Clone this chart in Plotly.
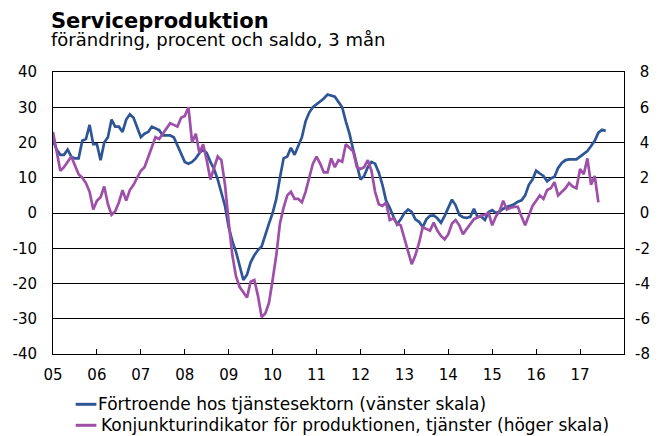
import plotly.graph_objects as go

# ---------------- data ----------------
start_year = 2005
year_ticks = list(range(2005, 2018))
year_labels = ["05", "06", "07", "08", "09", "10", "11", "12", "13", "14", "15", "16", "17"]

left_ticks = [-40, -30, -20, -10, 0, 10, 20, 30, 40]
right_ticks = [-8, -6, -4, -2, 0, 2, 4, 6, 8]

# Förtroende hos tjänstesektorn (vänster skala), monthly from Jan 2005
confidence = [
    20.5, 18, 16.5, 16.5, 18, 16, 15.5, 15.5, 20.5, 21, 25, 19.5,      # 2005
    19.5, 15, 20, 21.5, 26.5, 24.5, 24.5, 23, 26.5, 28, 27, 24,        # 2006
    21.5, 22.5, 23, 24.5, 24, 23.5, 22, 22, 22, 21.5, 19, 17,          # 2007
    14.5, 14, 14.5, 15.5, 17, 18, 17, 14.5, 12.5, 9.5, 6, 2,           # 2008
    -4, -8, -11, -15, -19, -17.5, -14, -12, -10.5, -9.5, -6, -3,       # 2009
    0, 4, 10, 15.5, 16, 18.5, 16.5, 19, 21.5, 26, 28.5, 30,            # 2010
    30.8, 31.5, 32.5, 33.6, 33.2, 33, 31.5, 30, 26, 22.5, 18, 14,      # 2011
    9.5, 10.5, 13, 14.5, 14, 11.5, 8, 3.5, 1.5, -1, -3.2, -1.8,        # 2012
    0, 1, 0.3, -1.8, -2.5, -4, -1.8, -0.8, -0.7, -1.5, -2.8, -0.8,     # 2013
    1.3, 3.8, 2.2, -0.5, -1.2, -1.4, -1.1, 1.2, -1.1, -1, -2, 0.3,     # 2014
    0.8, 0, 0.4, 1.2, 1.7, 2, 2.5, 3.2, 3.6, 5, 8, 9.5,                # 2015
    12, 11.2, 10.5, 9, 9.8, 10.3, 12.8, 14.2, 15, 15.2, 15.2, 15.2,    # 2016
    16, 16.8, 17.6, 19, 20.5, 22.8, 23.6, 23.3,                        # 2017
]

# Konjunkturindikator för produktionen, tjänster (höger skala), monthly from Jan 2005
indicator = [
    4.6, 3.6, 2.4, 2.6, 2.9, 3.2, 2.7, 2.2, 2.0, 1.7, 1.2, 0.2,               # 2005
    0.7, 0.9, 1.5, 0.5, -0.1, 0.1, 0.6, 1.3, 0.7, 1.3, 1.6, 2.0,              # 2006
    2.4, 2.6, 3.2, 3.7, 4.3, 4.2, 4.5, 4.8, 5.1, 5.0, 4.9, 5.4,               # 2007
    5.5, 6.0, 4.0, 4.5, 3.4, 3.9, 3.0, 1.9, 2.5, 3.2, 3.0, 1.6,               # 2008
    -0.5, -2.4, -3.6, -4.2, -4.5, -4.8, -3.9, -3.8, -4.7, -5.9, -5.7, -5.1,   # 2009
    -3.8, -2.4, -0.6, 0.3, 1.0, 1.2, 0.8, 0.8, 0.6, 1.2, 2.0, 2.8,            # 2010
    3.2, 2.8, 2.3, 2.3, 3.1, 2.6, 3.0, 2.9, 3.9, 3.7, 3.5, 2.6,               # 2011
    2.5, 2.6, 3.0, 2.4, 1.2, 0.5, 0.4, 0.6, -0.4, -0.3, -0.6, -0.7,           # 2012
    -1.4, -2.2, -2.9, -2.4, -1.7, -0.8, -0.9, -1.0, -0.55, -1.0, -1.3, -1.5,  # 2013
    -1.2, -0.6, -0.4, -0.7, -1.2, -0.9, -0.6, -0.35, -0.25, -0.15, -0.1, 0.0, # 2014
    -0.7, -0.2, 0.1, 0.7, 0.2, 0.3, 0.35, 0.35, -0.2, -0.7, -0.15, 0.4,       # 2015
    0.7, 1.0, 0.8, 1.3, 1.4, 1.75, 1.0, 1.2, 1.4, 1.7, 1.5, 1.4,              # 2016
    2.5, 2.2, 3.1, 1.6, 2.1, 0.6,                                             # 2017
]

title_text = "Serviceproduktion"
subtitle_text = "förändring, procent och saldo, 3 mån"
name_confidence = "Förtroende hos tjänstesektorn (vänster skala)"
name_indicator = "Konjunkturindikator för produktionen, tjänster (höger skala)"

# ---------------- styling ----------------
BLUE = "#2E5596"
PURPLE = "#9E4FA8"
FONT = "DejaVu Sans"
W, H = 662, 436
ML, MR, MT, MB = 51, 32, 72, 82
PW, PH = W - ML - MR, H - MT - MB


def px_x(x):
    return (x - ML) / PW


def px_y(y):
    return (H - MB - y) / PH


x_conf = [start_year + i / 12 for i in range(len(confidence))]
x_ind = [start_year + i / 12 for i in range(len(indicator))]

fig = go.Figure()
fig.add_trace(go.Scatter(x=x_conf, y=confidence, mode="lines", name=name_confidence,
                         line=dict(color=BLUE, width=2.7), showlegend=False))
fig.add_trace(go.Scatter(x=x_ind, y=indicator, mode="lines", name=name_indicator, yaxis="y2",
                         line=dict(color=PURPLE, width=2.7), showlegend=False))

tickfont = dict(family=FONT, size=15, color="#000000")

fig.update_layout(
    width=W, height=H,
    margin=dict(l=ML, r=MR, t=MT, b=MB, pad=0),
    paper_bgcolor="white", plot_bgcolor="white",
    font=dict(family=FONT, color="#000000"),
    xaxis=dict(range=[2005, 2018], tickmode="array", tickvals=year_ticks, ticktext=year_labels,
               ticks="inside", ticklen=5, tickwidth=1, tickcolor="#000000",
               showline=True, mirror=True, linecolor="#000000", linewidth=1,
               showgrid=False, zeroline=False, tickfont=tickfont, ticklabelstandoff=7),
    yaxis=dict(range=[-40, 40], tickmode="array", tickvals=left_ticks,
               ticktext=[str(v) for v in left_ticks],
               showgrid=True, gridcolor="#000000", gridwidth=1, zeroline=False,
               showline=True, mirror=True, linecolor="#000000", linewidth=1,
               ticks="", tickfont=tickfont, ticklabelstandoff=12),
    yaxis2=dict(range=[-8, 8], overlaying="y", side="right", tickmode="array", tickvals=right_ticks,
                ticktext=[("\u2008" + str(v)) if v >= 0 else str(v) for v in right_ticks],
                showgrid=False, zeroline=False, showline=False, ticks="",
                tickfont=tickfont, ticklabelstandoff=10),
    showlegend=False,
)

header = ("<b><span style='font-size:21px'>" + title_text + "</span></b><br>"
          "<span style='font-size:18px'>" + subtitle_text + "</span>")

annotations = [
    dict(text=header, x=px_x(47), y=px_y(7), xref="paper", yref="paper",
         xanchor="left", yanchor="top", align="left", showarrow=False,
         font=dict(family=FONT, size=13.6, color="#000000")),
    dict(text=name_confidence, x=px_x(95), y=px_y(404), xref="paper", yref="paper",
         xanchor="left", yanchor="middle", showarrow=False,
         font=dict(family=FONT, size=17, color="#000000")),
    dict(text=name_indicator, x=px_x(98), y=px_y(425), xref="paper", yref="paper",
         xanchor="left", yanchor="middle", showarrow=False,
         font=dict(family=FONT, size=17, color="#000000")),
]
shapes = [
    dict(type="line", xref="paper", yref="paper", x0=px_x(74), x1=px_x(95), y0=px_y(404.3), y1=px_y(404.3),
         line=dict(color=BLUE, width=3)),
    dict(type="line", xref="paper", yref="paper", x0=px_x(74), x1=px_x(95), y0=px_y(425.3), y1=px_y(425.3),
         line=dict(color=PURPLE, width=3)),
]
fig.update_layout(annotations=annotations, shapes=shapes)

fig.write_html("out.html", config={"displayModeBar": False, "staticPlot": True},
               post_script="document.body.style.margin='0';document.body.style.overflow='hidden';")
